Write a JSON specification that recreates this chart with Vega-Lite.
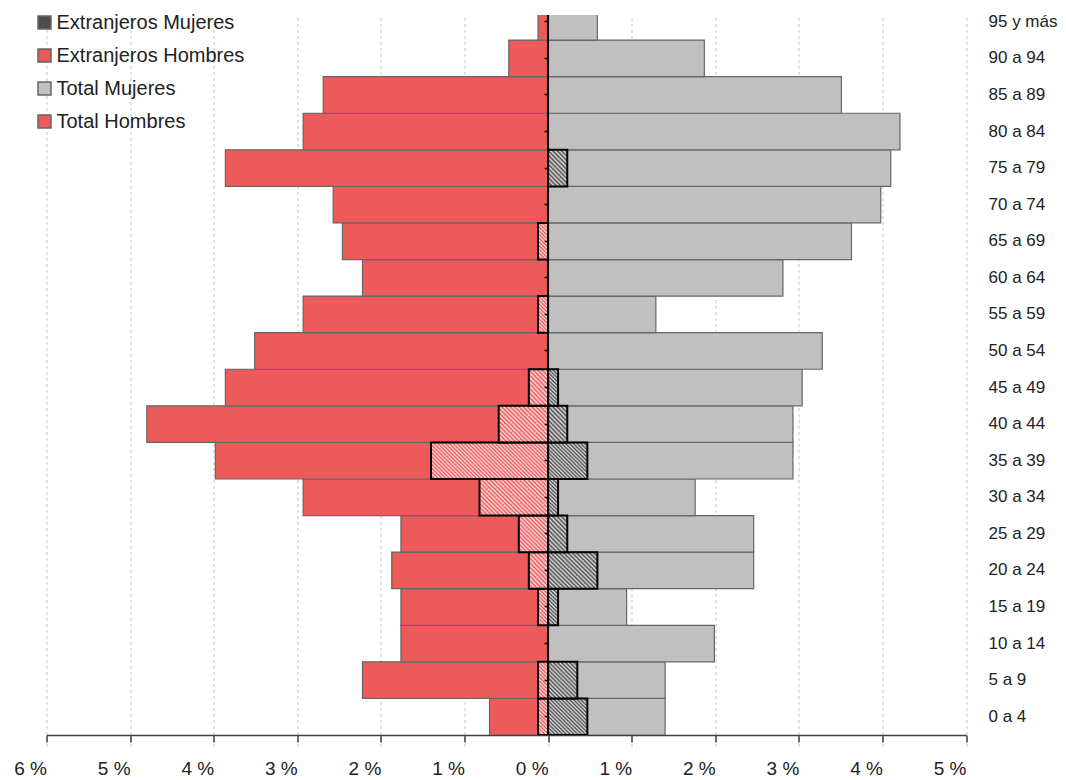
{
  "$schema": "https://vega.github.io/schema/vega-lite/v6.json",
  "width": 919.5,
  "height": 720,
  "autosize": "none",
  "padding": {"left": 46.5, "top": 15, "right": 100, "bottom": 45},
  "background": "white",
  "config": {"view": {"stroke": null}, "font": "Liberation Sans"},
  "data": {
    "values": [
      {"edad": "0 a 4", "serie": "Total Hombres", "valor": -0.70},
      {"edad": "5 a 9", "serie": "Total Hombres", "valor": -2.22},
      {"edad": "10 a 14", "serie": "Total Hombres", "valor": -1.76},
      {"edad": "15 a 19", "serie": "Total Hombres", "valor": -1.76},
      {"edad": "20 a 24", "serie": "Total Hombres", "valor": -1.87},
      {"edad": "25 a 29", "serie": "Total Hombres", "valor": -1.76},
      {"edad": "30 a 34", "serie": "Total Hombres", "valor": -2.93},
      {"edad": "35 a 39", "serie": "Total Hombres", "valor": -3.98},
      {"edad": "40 a 44", "serie": "Total Hombres", "valor": -4.80},
      {"edad": "45 a 49", "serie": "Total Hombres", "valor": -3.86},
      {"edad": "50 a 54", "serie": "Total Hombres", "valor": -3.51},
      {"edad": "55 a 59", "serie": "Total Hombres", "valor": -2.93},
      {"edad": "60 a 64", "serie": "Total Hombres", "valor": -2.22},
      {"edad": "65 a 69", "serie": "Total Hombres", "valor": -2.46},
      {"edad": "70 a 74", "serie": "Total Hombres", "valor": -2.57},
      {"edad": "75 a 79", "serie": "Total Hombres", "valor": -3.86},
      {"edad": "80 a 84", "serie": "Total Hombres", "valor": -2.93},
      {"edad": "85 a 89", "serie": "Total Hombres", "valor": -2.69},
      {"edad": "90 a 94", "serie": "Total Hombres", "valor": -0.47},
      {"edad": "95 y más", "serie": "Total Hombres", "valor": -0.12},
      {"edad": "0 a 4", "serie": "Total Mujeres", "valor": 1.40},
      {"edad": "5 a 9", "serie": "Total Mujeres", "valor": 1.40},
      {"edad": "10 a 14", "serie": "Total Mujeres", "valor": 1.99},
      {"edad": "15 a 19", "serie": "Total Mujeres", "valor": 0.94},
      {"edad": "20 a 24", "serie": "Total Mujeres", "valor": 2.46},
      {"edad": "25 a 29", "serie": "Total Mujeres", "valor": 2.46},
      {"edad": "30 a 34", "serie": "Total Mujeres", "valor": 1.76},
      {"edad": "35 a 39", "serie": "Total Mujeres", "valor": 2.93},
      {"edad": "40 a 44", "serie": "Total Mujeres", "valor": 2.93},
      {"edad": "45 a 49", "serie": "Total Mujeres", "valor": 3.04},
      {"edad": "50 a 54", "serie": "Total Mujeres", "valor": 3.28},
      {"edad": "55 a 59", "serie": "Total Mujeres", "valor": 1.29},
      {"edad": "60 a 64", "serie": "Total Mujeres", "valor": 2.81},
      {"edad": "65 a 69", "serie": "Total Mujeres", "valor": 3.63},
      {"edad": "70 a 74", "serie": "Total Mujeres", "valor": 3.98},
      {"edad": "75 a 79", "serie": "Total Mujeres", "valor": 4.10},
      {"edad": "80 a 84", "serie": "Total Mujeres", "valor": 4.21},
      {"edad": "85 a 89", "serie": "Total Mujeres", "valor": 3.51},
      {"edad": "90 a 94", "serie": "Total Mujeres", "valor": 1.87},
      {"edad": "95 y más", "serie": "Total Mujeres", "valor": 0.59},
      {"edad": "0 a 4", "serie": "Extranjeros Hombres", "valor": -0.12},
      {"edad": "5 a 9", "serie": "Extranjeros Hombres", "valor": -0.12},
      {"edad": "15 a 19", "serie": "Extranjeros Hombres", "valor": -0.12},
      {"edad": "20 a 24", "serie": "Extranjeros Hombres", "valor": -0.23},
      {"edad": "25 a 29", "serie": "Extranjeros Hombres", "valor": -0.35},
      {"edad": "30 a 34", "serie": "Extranjeros Hombres", "valor": -0.82},
      {"edad": "35 a 39", "serie": "Extranjeros Hombres", "valor": -1.40},
      {"edad": "40 a 44", "serie": "Extranjeros Hombres", "valor": -0.59},
      {"edad": "45 a 49", "serie": "Extranjeros Hombres", "valor": -0.23},
      {"edad": "55 a 59", "serie": "Extranjeros Hombres", "valor": -0.12},
      {"edad": "65 a 69", "serie": "Extranjeros Hombres", "valor": -0.12},
      {"edad": "0 a 4", "serie": "Extranjeros Mujeres", "valor": 0.47},
      {"edad": "5 a 9", "serie": "Extranjeros Mujeres", "valor": 0.35},
      {"edad": "15 a 19", "serie": "Extranjeros Mujeres", "valor": 0.12},
      {"edad": "20 a 24", "serie": "Extranjeros Mujeres", "valor": 0.59},
      {"edad": "25 a 29", "serie": "Extranjeros Mujeres", "valor": 0.23},
      {"edad": "30 a 34", "serie": "Extranjeros Mujeres", "valor": 0.12},
      {"edad": "35 a 39", "serie": "Extranjeros Mujeres", "valor": 0.47},
      {"edad": "40 a 44", "serie": "Extranjeros Mujeres", "valor": 0.23},
      {"edad": "45 a 49", "serie": "Extranjeros Mujeres", "valor": 0.12},
      {"edad": "75 a 79", "serie": "Extranjeros Mujeres", "valor": 0.23}
    ]
  },
  "resolve": {"axis": {"y": "independent"}},
  "layer": [
    {
      "transform": [{"filter": "indexof(datum.serie, 'Total') === 0"}],
      "mark": {"type": "bar", "stroke": "#666666", "strokeWidth": 1.2, "clip": true},
      "encoding": {
        "y": {
          "field": "edad", "type": "nominal",
          "sort": ["95 y más","90 a 94","85 a 89","80 a 84","75 a 79","70 a 74","65 a 69","60 a 64","55 a 59","50 a 54","45 a 49","40 a 44","35 a 39","30 a 34","25 a 29","20 a 24","15 a 19","10 a 14","5 a 9","0 a 4"],
          "scale": {
            "domain": ["95 y más","90 a 94","85 a 89","80 a 84","75 a 79","70 a 74","65 a 69","60 a 64","55 a 59","50 a 54","45 a 49","40 a 44","35 a 39","30 a 34","25 a 29","20 a 24","15 a 19","10 a 14","5 a 9","0 a 4"],
            "range": [-11.5, 720], "paddingInner": 0, "paddingOuter": 0
          },
          "axis": {
            "orient": "right", "title": null, "domain": false, "ticks": false, "grid": false,
            "labelPadding": 22, "labelFontSize": 17, "labelColor": "#222222",
            "labelFont": "Liberation Sans"
          }
        },
        "x": {
          "field": "valor", "type": "quantitative", "stack": null,
          "scale": {"domain": [-6, 5], "nice": false, "zero": false},
          "axis": {
            "title": null,
            "values": [-6, -5, -4, -3, -2, -1, 0, 1, 2, 3, 4, 5],
            "labelExpr": "abs(datum.value) + ' %'",
            "labelAlign": "right", "labelDx": -1,
            "labelFlush": false, "labelOverlap": false,
            "labelFontSize": 19, "labelColor": "#222222", "labelPadding": 17,
            "domainColor": "#404040", "domainWidth": 1.5,
            "tickColor": "#404040", "tickWidth": 1.5, "tickSize": 7,
            "grid": true, "gridColor": "#c4c4c4", "gridDash": [3, 3], "gridWidth": 1
          }
        },
        "fill": {
          "field": "serie", "type": "nominal",
          "scale": {
            "domain": ["Extranjeros Mujeres", "Extranjeros Hombres", "Total Mujeres", "Total Hombres"],
            "range": ["#4d4d4d", "#ec5757", "#c0c0c0", "#ec5a5a"]
          },
          "legend": {
            "orient": "none", "legendX": -12, "legendY": -2.5, "title": null,
            "symbolType": "square", "symbolSize": 169, "symbolOpacity": 1,
            "labelFontSize": 20, "labelColor": "#222222", "labelOffset": 2, "labelLimit": 400,
            "rowPadding": 13, "padding": 0,
            "encode": {
              "symbols": {
                "update": {
                  "fill": {"signal": "datum.value === 'Extranjeros Mujeres' ? {gradient: 'linear', x1: 0, y1: 1, x2: 1, y2: 0, stops: [{offset: 0, color: '#4d4d4d'}, {offset: 0.25, color: '#d8d8d8'}, {offset: 0.5, color: '#4d4d4d'}, {offset: 0.75, color: '#d8d8d8'}, {offset: 1, color: '#4d4d4d'}]} : datum.value === 'Extranjeros Hombres' ? {gradient: 'linear', x1: 0, y1: 1, x2: 1, y2: 0, stops: [{offset: 0, color: '#ec5757'}, {offset: 0.25, color: '#fde0e0'}, {offset: 0.5, color: '#ec5757'}, {offset: 0.75, color: '#fde0e0'}, {offset: 1, color: '#ec5757'}]} : scale('fill', datum.value)"},
                  "stroke": {"signal": "indexof(datum.value, 'Extranjeros') === 0 ? '#000000' : '#555555'"},
                  "strokeWidth": {"signal": "indexof(datum.value, 'Extranjeros') === 0 ? 2.5 : 1"}
                }
              }
            }
          }
        }
      }
    },
    {
      "transform": [{"filter": "indexof(datum.serie, 'Extranjeros') === 0"}],
      "mark": {"type": "bar", "strokeWidth": 0, "clip": true},
      "encoding": {
        "y": {
          "field": "edad", "type": "nominal",
          "sort": ["95 y más","90 a 94","85 a 89","80 a 84","75 a 79","70 a 74","65 a 69","60 a 64","55 a 59","50 a 54","45 a 49","40 a 44","35 a 39","30 a 34","25 a 29","20 a 24","15 a 19","10 a 14","5 a 9","0 a 4"],
          "axis": {
            "orient": "left", "offset": -501.6, "title": null, "domain": false, "grid": false,
            "labels": false, "ticks": true, "tickSize": 4, "tickColor": "#000000", "tickWidth": 1.5,
            "zindex": 2
          }
        },
        "x": {"field": "valor", "type": "quantitative", "stack": null},
        "fill": {"field": "serie", "type": "nominal"}
      }
    },
    {
      "transform": [{"filter": "indexof(datum.serie, 'Extranjeros') === 0"}],
      "mark": {"type": "bar", "stroke": "#000000", "strokeWidth": 2, "clip": true},
      "encoding": {
        "y": {
          "field": "edad", "type": "nominal",
          "sort": ["95 y más","90 a 94","85 a 89","80 a 84","75 a 79","70 a 74","65 a 69","60 a 64","55 a 59","50 a 54","45 a 49","40 a 44","35 a 39","30 a 34","25 a 29","20 a 24","15 a 19","10 a 14","5 a 9","0 a 4"],
          "axis": null
        },
        "x": {"field": "valor", "type": "quantitative", "stack": null},
        "fill": {
          "condition": [
            {
              "test": "abs(datum.valor) < 0.18",
              "value": {"gradient": "linear", "x1": 0, "y1": 1, "x2": 0.3167, "y2": -0.183, "stops": [
                {"offset": 0, "color": "rgba(255,255,255,0)"}, {"offset": 0.04, "color": "rgba(255,255,255,0.8)"},
                {"offset": 0.08, "color": "rgba(255,255,255,0)"}, {"offset": 0.12, "color": "rgba(255,255,255,0.8)"},
                {"offset": 0.16, "color": "rgba(255,255,255,0)"}, {"offset": 0.2, "color": "rgba(255,255,255,0.8)"},
                {"offset": 0.24, "color": "rgba(255,255,255,0)"}, {"offset": 0.28, "color": "rgba(255,255,255,0.8)"},
                {"offset": 0.32, "color": "rgba(255,255,255,0)"}, {"offset": 0.36, "color": "rgba(255,255,255,0.8)"},
                {"offset": 0.4, "color": "rgba(255,255,255,0)"}, {"offset": 0.44, "color": "rgba(255,255,255,0.8)"},
                {"offset": 0.48, "color": "rgba(255,255,255,0)"}, {"offset": 0.52, "color": "rgba(255,255,255,0.8)"},
                {"offset": 0.56, "color": "rgba(255,255,255,0)"}, {"offset": 0.6, "color": "rgba(255,255,255,0.8)"},
                {"offset": 0.64, "color": "rgba(255,255,255,0)"}, {"offset": 0.68, "color": "rgba(255,255,255,0.8)"},
                {"offset": 0.72, "color": "rgba(255,255,255,0)"}, {"offset": 0.76, "color": "rgba(255,255,255,0.8)"},
                {"offset": 0.8, "color": "rgba(255,255,255,0)"}, {"offset": 0.84, "color": "rgba(255,255,255,0.8)"},
                {"offset": 0.88, "color": "rgba(255,255,255,0)"}, {"offset": 0.92, "color": "rgba(255,255,255,0.8)"},
                {"offset": 0.96, "color": "rgba(255,255,255,0)"}, {"offset": 1, "color": "rgba(255,255,255,0.8)"}
              ]}
            },
            {
              "test": "abs(datum.valor) < 0.29",
              "value": {"gradient": "linear", "x1": 0, "y1": 1, "x2": 0.639, "y2": -0.1932, "stops": [
                {"offset": 0, "color": "rgba(255,255,255,0)"}, {"offset": 0.04, "color": "rgba(255,255,255,0.8)"},
                {"offset": 0.08, "color": "rgba(255,255,255,0)"}, {"offset": 0.12, "color": "rgba(255,255,255,0.8)"},
                {"offset": 0.16, "color": "rgba(255,255,255,0)"}, {"offset": 0.2, "color": "rgba(255,255,255,0.8)"},
                {"offset": 0.24, "color": "rgba(255,255,255,0)"}, {"offset": 0.28, "color": "rgba(255,255,255,0.8)"},
                {"offset": 0.32, "color": "rgba(255,255,255,0)"}, {"offset": 0.36, "color": "rgba(255,255,255,0.8)"},
                {"offset": 0.4, "color": "rgba(255,255,255,0)"}, {"offset": 0.44, "color": "rgba(255,255,255,0.8)"},
                {"offset": 0.48, "color": "rgba(255,255,255,0)"}, {"offset": 0.52, "color": "rgba(255,255,255,0.8)"},
                {"offset": 0.56, "color": "rgba(255,255,255,0)"}, {"offset": 0.6, "color": "rgba(255,255,255,0.8)"},
                {"offset": 0.64, "color": "rgba(255,255,255,0)"}, {"offset": 0.68, "color": "rgba(255,255,255,0.8)"},
                {"offset": 0.72, "color": "rgba(255,255,255,0)"}, {"offset": 0.76, "color": "rgba(255,255,255,0.8)"},
                {"offset": 0.8, "color": "rgba(255,255,255,0)"}, {"offset": 0.84, "color": "rgba(255,255,255,0.8)"},
                {"offset": 0.88, "color": "rgba(255,255,255,0)"}, {"offset": 0.92, "color": "rgba(255,255,255,0.8)"},
                {"offset": 0.96, "color": "rgba(255,255,255,0)"}, {"offset": 1, "color": "rgba(255,255,255,0.8)"}
              ]}
            },
            {
              "test": "abs(datum.valor) < 0.41",
              "value": {"gradient": "linear", "x1": 0, "y1": 1, "x2": 0.8784, "y2": -0.0973, "stops": [
                {"offset": 0, "color": "rgba(255,255,255,0)"}, {"offset": 0.03125, "color": "rgba(255,255,255,0.8)"},
                {"offset": 0.0625, "color": "rgba(255,255,255,0)"}, {"offset": 0.09375, "color": "rgba(255,255,255,0.8)"},
                {"offset": 0.125, "color": "rgba(255,255,255,0)"}, {"offset": 0.15625, "color": "rgba(255,255,255,0.8)"},
                {"offset": 0.1875, "color": "rgba(255,255,255,0)"}, {"offset": 0.21875, "color": "rgba(255,255,255,0.8)"},
                {"offset": 0.25, "color": "rgba(255,255,255,0)"}, {"offset": 0.28125, "color": "rgba(255,255,255,0.8)"},
                {"offset": 0.3125, "color": "rgba(255,255,255,0)"}, {"offset": 0.34375, "color": "rgba(255,255,255,0.8)"},
                {"offset": 0.375, "color": "rgba(255,255,255,0)"}, {"offset": 0.40625, "color": "rgba(255,255,255,0.8)"},
                {"offset": 0.4375, "color": "rgba(255,255,255,0)"}, {"offset": 0.46875, "color": "rgba(255,255,255,0.8)"},
                {"offset": 0.5, "color": "rgba(255,255,255,0)"}, {"offset": 0.53125, "color": "rgba(255,255,255,0.8)"},
                {"offset": 0.5625, "color": "rgba(255,255,255,0)"}, {"offset": 0.59375, "color": "rgba(255,255,255,0.8)"},
                {"offset": 0.625, "color": "rgba(255,255,255,0)"}, {"offset": 0.65625, "color": "rgba(255,255,255,0.8)"},
                {"offset": 0.6875, "color": "rgba(255,255,255,0)"}, {"offset": 0.71875, "color": "rgba(255,255,255,0.8)"},
                {"offset": 0.75, "color": "rgba(255,255,255,0)"}, {"offset": 0.78125, "color": "rgba(255,255,255,0.8)"},
                {"offset": 0.8125, "color": "rgba(255,255,255,0)"}, {"offset": 0.84375, "color": "rgba(255,255,255,0.8)"},
                {"offset": 0.875, "color": "rgba(255,255,255,0)"}, {"offset": 0.90625, "color": "rgba(255,255,255,0.8)"},
                {"offset": 0.9375, "color": "rgba(255,255,255,0)"}, {"offset": 0.96875, "color": "rgba(255,255,255,0.8)"},
                {"offset": 1, "color": "rgba(255,255,255,0)"}
              ]}
            },
            {
              "test": "abs(datum.valor) < 0.53",
              "value": {"gradient": "linear", "x1": 0, "y1": 1, "x2": 1.0319, "y2": 0.0341, "stops": [
                {"offset": 0, "color": "rgba(255,255,255,0)"}, {"offset": 0.025, "color": "rgba(255,255,255,0.8)"},
                {"offset": 0.05, "color": "rgba(255,255,255,0)"}, {"offset": 0.075, "color": "rgba(255,255,255,0.8)"},
                {"offset": 0.1, "color": "rgba(255,255,255,0)"}, {"offset": 0.125, "color": "rgba(255,255,255,0.8)"},
                {"offset": 0.15, "color": "rgba(255,255,255,0)"}, {"offset": 0.175, "color": "rgba(255,255,255,0.8)"},
                {"offset": 0.2, "color": "rgba(255,255,255,0)"}, {"offset": 0.225, "color": "rgba(255,255,255,0.8)"},
                {"offset": 0.25, "color": "rgba(255,255,255,0)"}, {"offset": 0.275, "color": "rgba(255,255,255,0.8)"},
                {"offset": 0.3, "color": "rgba(255,255,255,0)"}, {"offset": 0.325, "color": "rgba(255,255,255,0.8)"},
                {"offset": 0.35, "color": "rgba(255,255,255,0)"}, {"offset": 0.375, "color": "rgba(255,255,255,0.8)"},
                {"offset": 0.4, "color": "rgba(255,255,255,0)"}, {"offset": 0.425, "color": "rgba(255,255,255,0.8)"},
                {"offset": 0.45, "color": "rgba(255,255,255,0)"}, {"offset": 0.475, "color": "rgba(255,255,255,0.8)"},
                {"offset": 0.5, "color": "rgba(255,255,255,0)"}, {"offset": 0.525, "color": "rgba(255,255,255,0.8)"},
                {"offset": 0.55, "color": "rgba(255,255,255,0)"}, {"offset": 0.575, "color": "rgba(255,255,255,0.8)"},
                {"offset": 0.6, "color": "rgba(255,255,255,0)"}, {"offset": 0.625, "color": "rgba(255,255,255,0.8)"},
                {"offset": 0.65, "color": "rgba(255,255,255,0)"}, {"offset": 0.675, "color": "rgba(255,255,255,0.8)"},
                {"offset": 0.7, "color": "rgba(255,255,255,0)"}, {"offset": 0.725, "color": "rgba(255,255,255,0.8)"},
                {"offset": 0.75, "color": "rgba(255,255,255,0)"}, {"offset": 0.775, "color": "rgba(255,255,255,0.8)"},
                {"offset": 0.8, "color": "rgba(255,255,255,0)"}, {"offset": 0.825, "color": "rgba(255,255,255,0.8)"},
                {"offset": 0.85, "color": "rgba(255,255,255,0)"}, {"offset": 0.875, "color": "rgba(255,255,255,0.8)"},
                {"offset": 0.9, "color": "rgba(255,255,255,0)"}, {"offset": 0.925, "color": "rgba(255,255,255,0.8)"},
                {"offset": 0.95, "color": "rgba(255,255,255,0)"}, {"offset": 0.975, "color": "rgba(255,255,255,0.8)"},
                {"offset": 1, "color": "rgba(255,255,255,0)"}
              ]}
            },
            {
              "test": "abs(datum.valor) < 0.7",
              "value": {"gradient": "linear", "x1": 0, "y1": 1, "x2": 1.1207, "y2": 0.1612, "stops": [
                {"offset": 0, "color": "rgba(255,255,255,0)"}, {"offset": 0.025, "color": "rgba(255,255,255,0.8)"},
                {"offset": 0.05, "color": "rgba(255,255,255,0)"}, {"offset": 0.075, "color": "rgba(255,255,255,0.8)"},
                {"offset": 0.1, "color": "rgba(255,255,255,0)"}, {"offset": 0.125, "color": "rgba(255,255,255,0.8)"},
                {"offset": 0.15, "color": "rgba(255,255,255,0)"}, {"offset": 0.175, "color": "rgba(255,255,255,0.8)"},
                {"offset": 0.2, "color": "rgba(255,255,255,0)"}, {"offset": 0.225, "color": "rgba(255,255,255,0.8)"},
                {"offset": 0.25, "color": "rgba(255,255,255,0)"}, {"offset": 0.275, "color": "rgba(255,255,255,0.8)"},
                {"offset": 0.3, "color": "rgba(255,255,255,0)"}, {"offset": 0.325, "color": "rgba(255,255,255,0.8)"},
                {"offset": 0.35, "color": "rgba(255,255,255,0)"}, {"offset": 0.375, "color": "rgba(255,255,255,0.8)"},
                {"offset": 0.4, "color": "rgba(255,255,255,0)"}, {"offset": 0.425, "color": "rgba(255,255,255,0.8)"},
                {"offset": 0.45, "color": "rgba(255,255,255,0)"}, {"offset": 0.475, "color": "rgba(255,255,255,0.8)"},
                {"offset": 0.5, "color": "rgba(255,255,255,0)"}, {"offset": 0.525, "color": "rgba(255,255,255,0.8)"},
                {"offset": 0.55, "color": "rgba(255,255,255,0)"}, {"offset": 0.575, "color": "rgba(255,255,255,0.8)"},
                {"offset": 0.6, "color": "rgba(255,255,255,0)"}, {"offset": 0.625, "color": "rgba(255,255,255,0.8)"},
                {"offset": 0.65, "color": "rgba(255,255,255,0)"}, {"offset": 0.675, "color": "rgba(255,255,255,0.8)"},
                {"offset": 0.7, "color": "rgba(255,255,255,0)"}, {"offset": 0.725, "color": "rgba(255,255,255,0.8)"},
                {"offset": 0.75, "color": "rgba(255,255,255,0)"}, {"offset": 0.775, "color": "rgba(255,255,255,0.8)"},
                {"offset": 0.8, "color": "rgba(255,255,255,0)"}, {"offset": 0.825, "color": "rgba(255,255,255,0.8)"},
                {"offset": 0.85, "color": "rgba(255,255,255,0)"}, {"offset": 0.875, "color": "rgba(255,255,255,0.8)"},
                {"offset": 0.9, "color": "rgba(255,255,255,0)"}, {"offset": 0.925, "color": "rgba(255,255,255,0.8)"},
                {"offset": 0.95, "color": "rgba(255,255,255,0)"}, {"offset": 0.975, "color": "rgba(255,255,255,0.8)"},
                {"offset": 1, "color": "rgba(255,255,255,0)"}
              ]}
            },
            {
              "test": "abs(datum.valor) < 1.0",
              "value": {"gradient": "linear", "x1": 0, "y1": 1, "x2": 1.1935, "y2": 0.3623, "stops": [
                {"offset": 0, "color": "rgba(255,255,255,0)"}, {"offset": 0.02, "color": "rgba(255,255,255,0.8)"},
                {"offset": 0.04, "color": "rgba(255,255,255,0)"}, {"offset": 0.06, "color": "rgba(255,255,255,0.8)"},
                {"offset": 0.08, "color": "rgba(255,255,255,0)"}, {"offset": 0.1, "color": "rgba(255,255,255,0.8)"},
                {"offset": 0.12, "color": "rgba(255,255,255,0)"}, {"offset": 0.14, "color": "rgba(255,255,255,0.8)"},
                {"offset": 0.16, "color": "rgba(255,255,255,0)"}, {"offset": 0.18, "color": "rgba(255,255,255,0.8)"},
                {"offset": 0.2, "color": "rgba(255,255,255,0)"}, {"offset": 0.22, "color": "rgba(255,255,255,0.8)"},
                {"offset": 0.24, "color": "rgba(255,255,255,0)"}, {"offset": 0.26, "color": "rgba(255,255,255,0.8)"},
                {"offset": 0.28, "color": "rgba(255,255,255,0)"}, {"offset": 0.3, "color": "rgba(255,255,255,0.8)"},
                {"offset": 0.32, "color": "rgba(255,255,255,0)"}, {"offset": 0.34, "color": "rgba(255,255,255,0.8)"},
                {"offset": 0.36, "color": "rgba(255,255,255,0)"}, {"offset": 0.38, "color": "rgba(255,255,255,0.8)"},
                {"offset": 0.4, "color": "rgba(255,255,255,0)"}, {"offset": 0.42, "color": "rgba(255,255,255,0.8)"},
                {"offset": 0.44, "color": "rgba(255,255,255,0)"}, {"offset": 0.46, "color": "rgba(255,255,255,0.8)"},
                {"offset": 0.48, "color": "rgba(255,255,255,0)"}, {"offset": 0.5, "color": "rgba(255,255,255,0.8)"},
                {"offset": 0.52, "color": "rgba(255,255,255,0)"}, {"offset": 0.54, "color": "rgba(255,255,255,0.8)"},
                {"offset": 0.56, "color": "rgba(255,255,255,0)"}, {"offset": 0.58, "color": "rgba(255,255,255,0.8)"},
                {"offset": 0.6, "color": "rgba(255,255,255,0)"}, {"offset": 0.62, "color": "rgba(255,255,255,0.8)"},
                {"offset": 0.64, "color": "rgba(255,255,255,0)"}, {"offset": 0.66, "color": "rgba(255,255,255,0.8)"},
                {"offset": 0.68, "color": "rgba(255,255,255,0)"}, {"offset": 0.7, "color": "rgba(255,255,255,0.8)"},
                {"offset": 0.72, "color": "rgba(255,255,255,0)"}, {"offset": 0.74, "color": "rgba(255,255,255,0.8)"},
                {"offset": 0.76, "color": "rgba(255,255,255,0)"}, {"offset": 0.78, "color": "rgba(255,255,255,0.8)"},
                {"offset": 0.8, "color": "rgba(255,255,255,0)"}, {"offset": 0.82, "color": "rgba(255,255,255,0.8)"},
                {"offset": 0.84, "color": "rgba(255,255,255,0)"}, {"offset": 0.86, "color": "rgba(255,255,255,0.8)"},
                {"offset": 0.88, "color": "rgba(255,255,255,0)"}, {"offset": 0.9, "color": "rgba(255,255,255,0.8)"},
                {"offset": 0.92, "color": "rgba(255,255,255,0)"}, {"offset": 0.94, "color": "rgba(255,255,255,0.8)"},
                {"offset": 0.96, "color": "rgba(255,255,255,0)"}, {"offset": 0.98, "color": "rgba(255,255,255,0.8)"},
                {"offset": 1, "color": "rgba(255,255,255,0)"}
              ]}
            }
          ],
          "value": {"gradient": "linear", "x1": 0, "y1": 1, "x2": 1.1956, "y2": 0.6269, "stops": [
            {"offset": 0, "color": "rgba(255,255,255,0)"}, {"offset": 0.0125, "color": "rgba(255,255,255,0.8)"},
            {"offset": 0.025, "color": "rgba(255,255,255,0)"}, {"offset": 0.0375, "color": "rgba(255,255,255,0.8)"},
            {"offset": 0.05, "color": "rgba(255,255,255,0)"}, {"offset": 0.0625, "color": "rgba(255,255,255,0.8)"},
            {"offset": 0.075, "color": "rgba(255,255,255,0)"}, {"offset": 0.0875, "color": "rgba(255,255,255,0.8)"},
            {"offset": 0.1, "color": "rgba(255,255,255,0)"}, {"offset": 0.1125, "color": "rgba(255,255,255,0.8)"},
            {"offset": 0.125, "color": "rgba(255,255,255,0)"}, {"offset": 0.1375, "color": "rgba(255,255,255,0.8)"},
            {"offset": 0.15, "color": "rgba(255,255,255,0)"}, {"offset": 0.1625, "color": "rgba(255,255,255,0.8)"},
            {"offset": 0.175, "color": "rgba(255,255,255,0)"}, {"offset": 0.1875, "color": "rgba(255,255,255,0.8)"},
            {"offset": 0.2, "color": "rgba(255,255,255,0)"}, {"offset": 0.2125, "color": "rgba(255,255,255,0.8)"},
            {"offset": 0.225, "color": "rgba(255,255,255,0)"}, {"offset": 0.2375, "color": "rgba(255,255,255,0.8)"},
            {"offset": 0.25, "color": "rgba(255,255,255,0)"}, {"offset": 0.2625, "color": "rgba(255,255,255,0.8)"},
            {"offset": 0.275, "color": "rgba(255,255,255,0)"}, {"offset": 0.2875, "color": "rgba(255,255,255,0.8)"},
            {"offset": 0.3, "color": "rgba(255,255,255,0)"}, {"offset": 0.3125, "color": "rgba(255,255,255,0.8)"},
            {"offset": 0.325, "color": "rgba(255,255,255,0)"}, {"offset": 0.3375, "color": "rgba(255,255,255,0.8)"},
            {"offset": 0.35, "color": "rgba(255,255,255,0)"}, {"offset": 0.3625, "color": "rgba(255,255,255,0.8)"},
            {"offset": 0.375, "color": "rgba(255,255,255,0)"}, {"offset": 0.3875, "color": "rgba(255,255,255,0.8)"},
            {"offset": 0.4, "color": "rgba(255,255,255,0)"}, {"offset": 0.4125, "color": "rgba(255,255,255,0.8)"},
            {"offset": 0.425, "color": "rgba(255,255,255,0)"}, {"offset": 0.4375, "color": "rgba(255,255,255,0.8)"},
            {"offset": 0.45, "color": "rgba(255,255,255,0)"}, {"offset": 0.4625, "color": "rgba(255,255,255,0.8)"},
            {"offset": 0.475, "color": "rgba(255,255,255,0)"}, {"offset": 0.4875, "color": "rgba(255,255,255,0.8)"},
            {"offset": 0.5, "color": "rgba(255,255,255,0)"}, {"offset": 0.5125, "color": "rgba(255,255,255,0.8)"},
            {"offset": 0.525, "color": "rgba(255,255,255,0)"}, {"offset": 0.5375, "color": "rgba(255,255,255,0.8)"},
            {"offset": 0.55, "color": "rgba(255,255,255,0)"}, {"offset": 0.5625, "color": "rgba(255,255,255,0.8)"},
            {"offset": 0.575, "color": "rgba(255,255,255,0)"}, {"offset": 0.5875, "color": "rgba(255,255,255,0.8)"},
            {"offset": 0.6, "color": "rgba(255,255,255,0)"}, {"offset": 0.6125, "color": "rgba(255,255,255,0.8)"},
            {"offset": 0.625, "color": "rgba(255,255,255,0)"}, {"offset": 0.6375, "color": "rgba(255,255,255,0.8)"},
            {"offset": 0.65, "color": "rgba(255,255,255,0)"}, {"offset": 0.6625, "color": "rgba(255,255,255,0.8)"},
            {"offset": 0.675, "color": "rgba(255,255,255,0)"}, {"offset": 0.6875, "color": "rgba(255,255,255,0.8)"},
            {"offset": 0.7, "color": "rgba(255,255,255,0)"}, {"offset": 0.7125, "color": "rgba(255,255,255,0.8)"},
            {"offset": 0.725, "color": "rgba(255,255,255,0)"}, {"offset": 0.7375, "color": "rgba(255,255,255,0.8)"},
            {"offset": 0.75, "color": "rgba(255,255,255,0)"}, {"offset": 0.7625, "color": "rgba(255,255,255,0.8)"},
            {"offset": 0.775, "color": "rgba(255,255,255,0)"}, {"offset": 0.7875, "color": "rgba(255,255,255,0.8)"},
            {"offset": 0.8, "color": "rgba(255,255,255,0)"}, {"offset": 0.8125, "color": "rgba(255,255,255,0.8)"},
            {"offset": 0.825, "color": "rgba(255,255,255,0)"}, {"offset": 0.8375, "color": "rgba(255,255,255,0.8)"},
            {"offset": 0.85, "color": "rgba(255,255,255,0)"}, {"offset": 0.8625, "color": "rgba(255,255,255,0.8)"},
            {"offset": 0.875, "color": "rgba(255,255,255,0)"}, {"offset": 0.8875, "color": "rgba(255,255,255,0.8)"},
            {"offset": 0.9, "color": "rgba(255,255,255,0)"}, {"offset": 0.9125, "color": "rgba(255,255,255,0.8)"},
            {"offset": 0.925, "color": "rgba(255,255,255,0)"}, {"offset": 0.9375, "color": "rgba(255,255,255,0.8)"},
            {"offset": 0.95, "color": "rgba(255,255,255,0)"}, {"offset": 0.9625, "color": "rgba(255,255,255,0.8)"},
            {"offset": 0.975, "color": "rgba(255,255,255,0)"}, {"offset": 0.9875, "color": "rgba(255,255,255,0.8)"},
            {"offset": 1, "color": "rgba(255,255,255,0)"}
          ]}
        }
      }
    },
    {
      "data": {"values": [{}]},
      "mark": {"type": "rule", "color": "#000000", "strokeWidth": 2},
      "encoding": {"x": {"datum": 0}}
    }
  ]
}
